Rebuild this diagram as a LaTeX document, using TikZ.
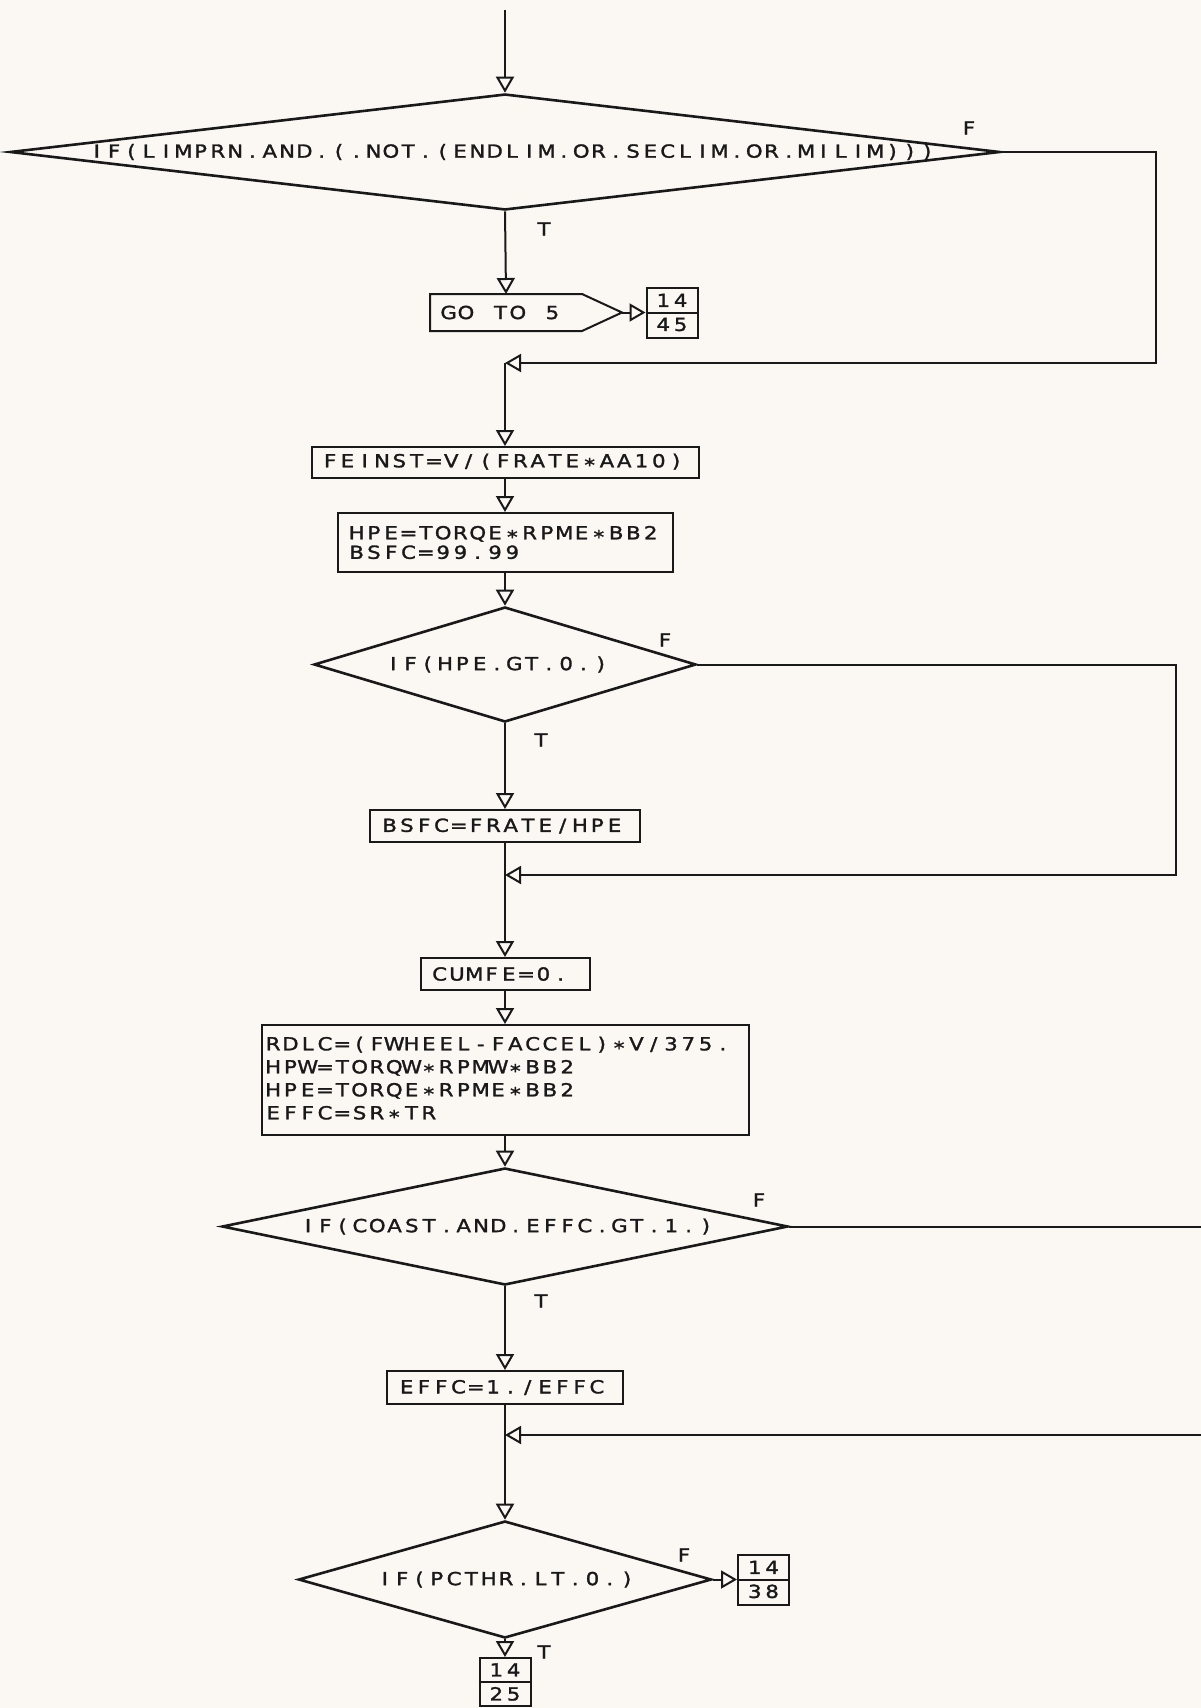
\documentclass[tikz,border=0pt]{standalone}
\usepackage{fontspec}
\newfontfamily\plotfont{DejaVu Sans}[FakeStretch=1.18, FakeBold=1.6]
\usetikzlibrary{arrows.meta,shapes.geometric}
\definecolor{paper}{RGB}{251,248,244}
\definecolor{ink}{RGB}{25,25,25}
\newcommand\monoend{}
\newcommand\mono[1]{\monoloop#1\monoend}
\def\monoloop#1{\ifx#1\monoend\else\makebox[17.3pt][c]{#1}\expandafter\monoloop\fi}
\newcommand\st{\raisebox{-4pt}{*}}
\tikzset{
  every node/.style={font=\plotfont\fontsize{18}{23}\selectfont, text=ink},
  box/.style={draw=ink, line width=2pt, rectangle, inner ysep=0pt, align=left},
  dia/.style={draw=ink, line width=2.6pt, diamond, inner sep=0pt},
  conn/.style={draw=ink, line width=2pt},
  arr/.style={-{Triangle[open,length=16pt,width=18pt]}},
  lbl/.style={inner sep=0pt},
  con/.style={draw=ink, line width=2pt, minimum width=51pt, minimum height=50pt,
    inner sep=0pt, align=center, font=\plotfont\fontsize{18}{24}\selectfont}
}
\begin{document}
\begin{tikzpicture}[x=1pt,y=-1pt]
\fill[paper] (0,0) rectangle (1201,1708);
\useasboundingbox (0,0) rectangle (1201,1708);

% ---------- nodes ----------
\coordinate (top) at (505,10);
\node[dia, minimum width=990, minimum height=116] (d1) at (505,152) {};
\node[lbl] (d1t) at ([xshift=7]d1.center) {\mono{IF(LIMPRN.AND.(.NOT.(ENDLIM.OR.SECLIM.OR.MILIM)))}};
\node[lbl] (f1) at (969,128) {F};
\node[lbl] (t1) at (544,229) {T};

\node[box, draw=none, minimum width=150, minimum height=35, inner xsep=9, text width=132, anchor=west] (goto) at (430,312.5) {\mono{GO~TO~5}};
\draw[ink, line width=2pt] (goto.north west) -- (goto.north east) -- ([xshift=40]goto.east) coordinate (gotop) -- (goto.south east) -- (goto.south west) -- cycle;
\node[con] (c45) at (672,312.5) {\mono{14}\\\mono{45}};
\draw[ink, line width=2pt] (c45.west) -- (c45.east);

\coordinate (r1) at (1156,152);
\coordinate (m1) at (505,363);

\node[box, minimum width=387, minimum height=31, inner xsep=10, text width=367] (feinst) at (505,462.5) {\mono{FEINST=V/(FRATE\st AA10)}};
\node[box, minimum width=335, minimum height=59, inner xsep=10.5, text width=314, font=\plotfont\fontsize{18}{19.5}\selectfont] (hpe) at (505,542.5) {\mono{HPE=TORQE\st RPME\st BB2}\\\mono{BSFC=99.99}};

\node[dia, minimum width=382, minimum height=115] (d2) at (505,664.5) {};
\node[lbl] (d2t) at ([xshift=-8]d2.center) {\mono{IF(HPE.GT.0.)}};
\node[lbl] (f2) at (665,640) {F};
\node[lbl] (t2) at (541,740) {T};
\coordinate (r2) at (1176,664.5);

\node[box, minimum width=270, minimum height=32, inner xsep=11, text width=248] (bsfc) at (505,826) {\mono{BSFC=FRATE/HPE}};
\coordinate (m2) at (505,875);
\node[box, minimum width=169, minimum height=32, inner xsep=10.5, text width=148] (cumfe) at (505,974) {\mono{CUMFE=0.}};

\node[box, minimum width=487, minimum height=110, inner xsep=3, text width=481] (big) at (505,1080) {\mono{RDLC=(FWHEEL-FACCEL)\st V/375.}\\\mono{HPW=TORQW\st RPMW\st BB2}\\\mono{HPE=TORQE\st RPME\st BB2}\\\mono{EFFC=SR\st TR}};

\node[dia, minimum width=566, minimum height=117] (d3) at (505,1226.5) {};
\node[lbl] (d3t) at ([xshift=2]d3.center) {\mono{IF(COAST.AND.EFFC.GT.1.)}};
\node[lbl] (f3) at (759,1200) {F};
\node[lbl] (t3) at (541,1301) {T};
\coordinate (o3) at (1201,1226.5);
\coordinate (i3) at (1201,1435);

\node[box, minimum width=236, minimum height=33, inner xsep=11, text width=214] (effc) at (505,1387.5) {\mono{EFFC=1./EFFC}};
\coordinate (m3) at (505,1435);

\node[dia, minimum width=413, minimum height=117] (d4) at (505,1579.5) {};
\node[lbl] (d4t) at ([xshift=1]d4.center) {\mono{IF(PCTHR.LT.0.)}};
\node[lbl] (f4) at (684,1555) {F};
\node[lbl] (t4) at (544,1652) {T};
\node[con] (c38) at (763.5,1579.5) {\mono{14}\\\mono{38}};
\draw[ink, line width=2pt] (c38.west) -- (c38.east);
\node[con, minimum height=48] (c25) at (505,1682) {\mono{14}\\\mono{25}};
\draw[ink, line width=2pt] (c25.west) -- (c25.east);

% ---------- connectors ----------
\draw[conn,arr] (top) -- (d1.north);
\draw[conn,arr] (d1.south) -- (goto.north);
\draw[conn,arr] (gotop) -- (c45.west);
\draw[conn,arr] (d1.east) -- (r1) |- (m1);
\draw[conn,arr] (m1) -- (feinst.north);
\draw[conn,arr] (feinst.south) -- (hpe.north);
\draw[conn,arr] (hpe.south) -- (d2.north);
\draw[conn,arr] (d2.south) -- (bsfc.north);
\draw[conn,arr] (d2.east) -- (r2) |- (m2);
\draw[conn] (bsfc.south) -- (m2);
\draw[conn,arr] (m2) -- (cumfe.north);
\draw[conn,arr] (cumfe.south) -- (big.north);
\draw[conn,arr] (big.south) -- (d3.north);
\draw[conn,arr] (d3.south) -- (effc.north);
\draw[conn] (d3.east) -- (o3);
\draw[conn,arr] (i3) -- (m3);
\draw[conn] (effc.south) -- (m3);
\draw[conn,arr] (m3) -- (d4.north);
\draw[conn,arr] (d4.east) -- (c38.west);
\draw[conn,arr] (d4.south) -- (c25.north);
\end{tikzpicture}
\end{document}
